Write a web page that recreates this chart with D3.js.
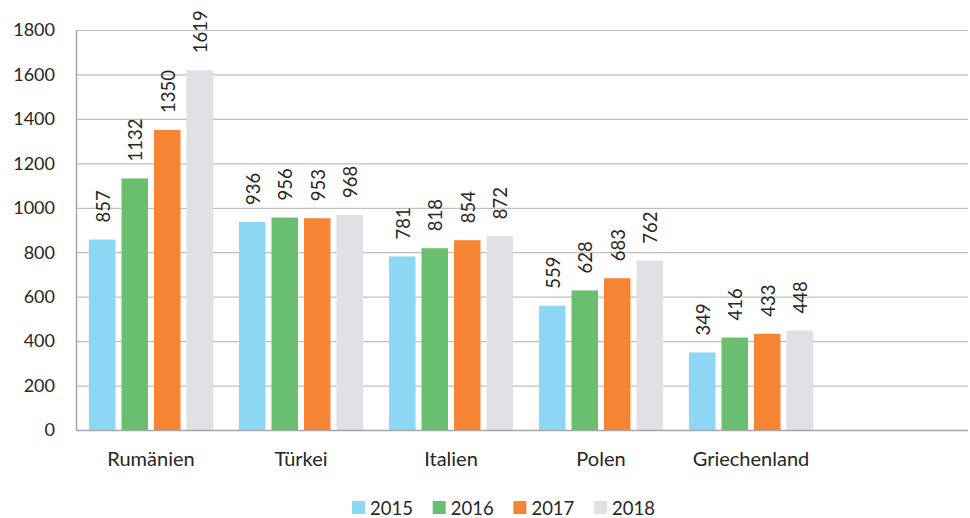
<!DOCTYPE html>
<html>
<head>
<meta charset="utf-8">
<script src="https://cdn.jsdelivr.net/npm/d3@7"></script>
<style>
  body { margin: 0; background: #fff; }
  text { font-family: Lato, "Open Sans", sans-serif; fill: #262626; }
</style>
</head>
<body>
<div id="chart"></div>
<script>
const WIDTH = 970;
const HEIGHT = 518;

const categories = ["Rumänien", "Türkei", "Italien", "Polen", "Griechenland"];
const years = ["2015", "2016", "2017", "2018"];
const v2015 = [857, 936, 781, 559, 349];
const v2016 = [1132, 956, 818, 628, 416];
const v2017 = [1350, 953, 854, 683, 433];
const v2018 = [1619, 968, 872, 762, 448];
const yTicks = [0, 200, 400, 600, 800, 1000, 1200, 1400, 1600, 1800];
const colors = ["#8dd7f5", "#69bf6f", "#f58535", "#e0e1e5"];

const series = [v2015, v2016, v2017, v2018];
const data = categories.map((c, i) => ({
    cat: c,
    values: years.map((y, j) => ({ year: y, value: series[j][i] }))
}));

const plotLeft = 76, plotTop = 30, plotBottom = 430, plotRight = 968;

let svg = d3.select("#chart").append("svg")
    .attr("width", WIDTH)
    .attr("height", HEIGHT);

let y = d3.scaleLinear().domain([0, 1800]).range([plotBottom, plotTop]);
// 5 categories occupy 150px each, the rest of the plot stays empty
let x0 = d3.scaleBand().domain(categories).range([plotLeft, plotLeft + 150 * categories.length]);
let x1 = d3.scaleBand().domain(years).range([13, 137]).paddingInner(0.185);

// gridlines
svg.append("g")
    .selectAll("line")
    .data(yTicks.filter(t => t > 0))
    .enter().append("line")
    .attr("x1", plotLeft).attr("x2", plotRight)
    .attr("y1", d => y(d) + 0.5).attr("y2", d => y(d) + 0.5)
    .attr("stroke", "#c0c0c0").attr("stroke-width", 1.2);

// y tick labels
svg.append("g")
    .selectAll("text")
    .data(yTicks)
    .enter().append("text")
    .attr("x", 55)
    .attr("y", d => y(d))
    .attr("dy", "0.35em")
    .attr("text-anchor", "end")
    .style("font-size", "18px")
    .text(d => d);

// bars
let groups = svg.append("g")
    .selectAll("g")
    .data(data)
    .enter().append("g")
    .attr("transform", d => `translate(${x0(d.cat)},0)`);

groups.selectAll("rect")
    .data(d => d.values)
    .enter().append("rect")
    .attr("x", d => x1(d.year))
    .attr("y", d => y(d.value))
    .attr("width", x1.bandwidth())
    .attr("height", d => plotBottom - y(d.value))
    .attr("fill", (d, i) => colors[i]);

// value labels, rotated
groups.selectAll("text")
    .data(d => d.values)
    .enter().append("text")
    .attr("transform", d => `translate(${x1(d.year) + x1.bandwidth() / 2 + 1},${y(d.value) - 17}) rotate(-90)`)
    .attr("dy", "0.35em")
    .style("font-size", "18.5px")
    .text(d => d.value);

// axes lines
svg.append("line")
    .attr("x1", plotLeft + 0.5).attr("x2", plotLeft + 0.5)
    .attr("y1", plotTop).attr("y2", plotBottom)
    .attr("stroke", "#a6a6a6").attr("stroke-width", 1.5);
svg.append("line")
    .attr("x1", plotLeft).attr("x2", plotRight)
    .attr("y1", plotBottom + 0.5).attr("y2", plotBottom + 0.5)
    .attr("stroke", "#a6a6a6").attr("stroke-width", 1.5);

// category labels
svg.append("g")
    .selectAll("text")
    .data(categories)
    .enter().append("text")
    .attr("x", d => x0(d) + x0.bandwidth() / 2)
    .attr("y", 466)
    .attr("text-anchor", "middle")
    .style("font-size", "20px")
    .text(d => d);

// legend
let legend = svg.append("g")
    .selectAll("g")
    .data(years)
    .enter().append("g")
    .attr("transform", (d, i) => `translate(${352 + i * 80.7},501)`);
legend.append("rect")
    .attr("width", 13).attr("height", 13)
    .attr("fill", (d, i) => colors[i]);
legend.append("text")
    .attr("x", 18).attr("y", 14)
    .style("font-size", "18.5px")
    .text(d => d);
</script>
</body>
</html>
